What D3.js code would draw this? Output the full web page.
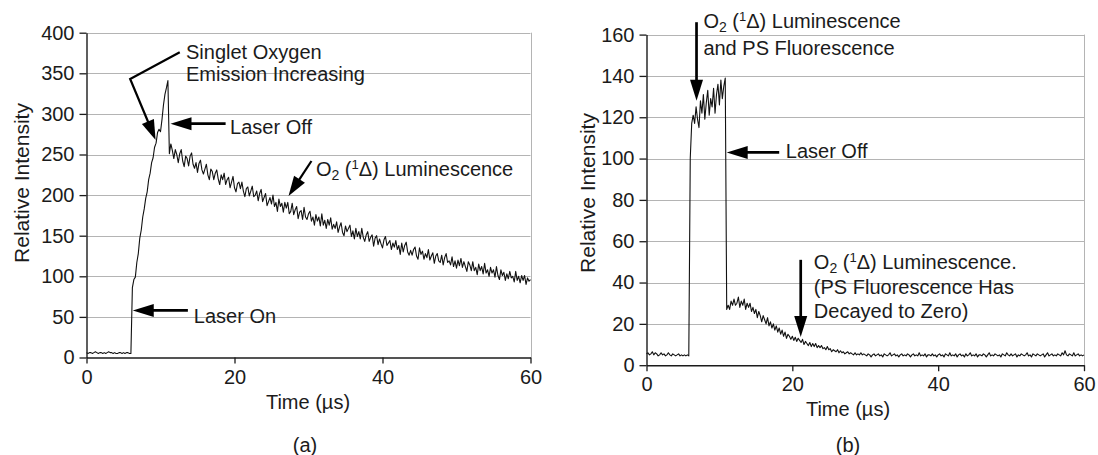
<!DOCTYPE html>
<html>
<head>
<meta charset="utf-8">
<script src="https://cdn.jsdelivr.net/npm/d3@7"></script>
<style>
  body { margin: 0; background: #fff; }
  svg { display: block; font-family: "Liberation Sans", Arial, sans-serif; }
</style>
</head>
<body>
<svg id="fig" width="1098" height="455"></svg>
<script>
// Recorded traces, one sample every 0.2 µs from t = 0 to t = 60 µs.
const sampleStep = 0.2;

// (a) Singlet oxygen emission: laser on at ~6 µs, off at ~11 µs.
const intensityA = [
  6,5,6,6,5,6,7,6,5,6,6,5,6,5,6,7,6,6,5,6,5,5,6,6,5,6,5,6,6,5,5,
  86,96,99,117,128,147,157,173,183,196,204,219,227,240,246,259,264,277,281,278,293,311,324,332,341,
  251,263,255,245,
  256,250,240,251,256, 242,235,248,245,236, 248,252,238,233,240, 228,239,243,231,226,
  232,238,225,219,232, 229,219,227,231,220, 213,225,219,227,213, 219,222,209,216,223,
  209,204,214,216,208, 216,205,198,208,210, 199,205,211,198,200, 205,193,202,207,192,
  197,202,187,192,197, 189,200,186,191,180, 195,186,190,179,191, 184,191,177,180,190,
  176,182,186,171,179, 181,170,185,173,170, 177,180,168,173,163, 176,168,173,162,177,
  163,169,159,170,163, 172,158,164,159,167, 154,161,166,154,150, 162,155,159,163,149,
  156,146,159,149,155, 146,159,148,143,151, 155,143,148,151,137, 147,150,139,146,140,
  135,145,149,138,141, 144,133,141,136,144, 133,138,127,141,130, 138,142,130,126,132,
  126,133,136,125,121, 135,127,131,121,128, 123,133,120,125,129, 116,125,128,119,117,
  126,114,123,128,117, 119,114,124,112,119, 110,120,113,122,111, 118,112,106,118,114,
  107,118,107,111,102, 115,107,112,103,116, 104,108,100,111,104, 108,99,112,101,96,
  108,101,105,95,103, 97,106,98,100,93, 106,95,100,92,101, 95,101,90,98,94,
  96
];

// (b) Luminescence plus photosensitizer fluorescence.
const intensityB = [
  5.5,6,5,5.5,6.5,5,6,5.5,4.5,5,6,5,5.5,4.5,5,6,5,4.5,5.5,5,4.5,5,5.5,4.5,5,4.5,5,4.5,5,4.5,
  100,117,
  121,117,125,119,115,128,122,131,119,127,133,121,129,125,134,122,131,136,126,138,129,135,139,
  27,
  29,27,31,29,
  32,29,30,33,28, 31,29,32,27,30, 28,30,26,28,25, 27,23,26,24,21,
  24,22,20,23,19, 21,18,20,17,19, 16,18,15,17,14, 16,13,15,14,12.5,
  14,12,13.5,11.5,13, 12,11,12.5,10,11.5, 10.5,9.5,11,9,10.5, 9,10.5,8.5,9.5,8.5,
  9.5,8,8.5,7.5,9, 7.5,8,6.5,7.5,7, 6.5,7.5,6,7,6, 6.5,5.5,6,6.5,5.5,
  6,5.5,5,6,5, 5.5,5,6,5,5.5,
  5,4.5,5.5,5,4,5,5.5,4.5,5,5.5,
  4.5,5,4,5.5,5,4.5,5,6,4.5,5,
  5.5,4.5,5,4,5,5.5,4.5,5,4.5,5.5,
  5,4,5,5.5,4.5,5,4.5,6,4.5,5,
  4.5,5.5,4,5,5,4.5,5.5,4.5,5,4,
  5,5.5,4.5,5,4,5.5,5,4.5,6,4.5,
  5,4.5,5.5,4,5,5.5,4.5,5,4,5.5,
  4.5,5,6,4.5,5,4.5,5.5,4,5,5,
  4.5,5.5,5,4,5,6,4.5,5,4.5,5.5,
  5,4.5,5,4,5.5,5,4.5,6,5,4.5,
  5.5,4.5,5,5.5,4,5,4.5,5.5,5,4.5,
  5,6,4.5,5,4,5.5,5,4.5,5.5,5,
  4.5,5,5.5,4,5,6,4.5,5,5.5,4.5,
  5,4.5,5.5,5,4.5,6,5,7,5,4.5,
  5.5,5,4.5,6,4.5,5,5.5,4.5,5,4.5,
  5
];

const timeTicks = [0, 20, 40, 60];
const intensityTicksA = [0, 50, 100, 150, 200, 250, 300, 350, 400];
const intensityTicksB = [0, 20, 40, 60, 80, 100, 120, 140, 160];

const timeTitle = "Time (µs)";
const intensityTitle = "Relative Intensity";
const panelLetters = ["(a)", "(b)"];

// Annotation arrows (time in µs, intensity units); the last point is the tip.
const arrowsA = [
  { kind: "pointer", pts: [[13.7, 58], [6.25, 58]] },
  { kind: "pointer", pts: [[18.8, 288], [11.35, 288]] },
  { kind: "callout", pts: [[12.6, 376], [5.9, 343], [9.34, 268]] },
  { kind: "callout", pts: [[30.4, 242], [27.3, 199]] }
];
const arrowsB = [
  { kind: "pointer", pts: [[6.86, 166], [6.86, 128]] },
  { kind: "pointer", pts: [[18.2, 103], [11.0, 103]] },
  { kind: "pointer", pts: [[21.15, 51], [21.15, 13.7]] }
];

// Annotation text ("_" = subscript, "^" = superscript for the next character).
const notesA = [
  { at: [14.5, 42], text: "Laser On" },
  { at: [19.4, 275], text: "Laser Off" },
  { at: [13.45, 368], text: "Singlet Oxygen" },
  { at: [13.45, 341], text: "Emission Increasing" },
  { at: [31.0, 224], text: "O_2 (^1Δ) Luminescence" }
];
const notesB = [
  { at: [7.8, 163], text: "O_2 (^1Δ) Luminescence" },
  { at: [7.8, 150], text: "and PS Fluorescence" },
  { at: [19.1, 100.4], text: "Laser Off" },
  { at: [22.95, 46.4], text: "O_2 (^1Δ) Luminescence." },
  { at: [22.95, 34.6], text: "(PS Fluorescence Has" },
  { at: [22.95, 23.0], text: "Decayed to Zero)" }
];

// ---------------------------------------------------------------------------
const svg = d3.select("#fig");
const INK = "#1b1b1b";
const GRID = "#b4b4b4";
const FONT = 20;

const panels = [
  { values: intensityA, ticks: intensityTicksA, arrows: arrowsA, notes: notesA, letter: panelLetters[0],
    xr: [86.5, 530.5], yr: [357.5, 32.7], yTitle: [22, 183], xTitleX: 308, letterX: 305 },
  { values: intensityB, ticks: intensityTicksB, arrows: arrowsB, notes: notesB, letter: panelLetters[1],
    xr: [646.5, 1084], yr: [365.2, 34.6], yTitle: [588, 193], xTitleX: 848, letterX: 848 }
];

function richText(g, x, y, str) {
  const t = g.append("text").attr("x", x).attr("y", y)
    .attr("font-size", FONT).attr("fill", INK);
  const re = /([_^])(.)/g;
  let last = 0, m, shift = 0;
  const add = (s, size, dy) => {
    const ts = t.append("tspan").text(s);
    if (size) ts.attr("font-size", size);
    if (dy) ts.attr("dy", dy);
  };
  while ((m = re.exec(str)) !== null) {
    if (m.index > last) { add(str.slice(last, m.index), null, -shift); shift = 0; }
    const d = m[1] === "_" ? 4 : -7;
    add(m[2], m[1] === "_" ? 14 : 13, d - shift);
    shift = d;
    last = re.lastIndex;
  }
  if (last < str.length) add(str.slice(last), null, -shift);
}

function drawArrow(g, pts, kind) {
  const lw = kind === "pointer" ? 2.7 : 2.2;
  const headLen = kind === "pointer" ? 21 : 20;
  const headHalf = 6.5;
  const n = pts.length;
  const [tx, ty] = pts[n - 1], [px, py] = pts[n - 2];
  const len = Math.hypot(tx - px, ty - py);
  const ux = (tx - px) / len, uy = (ty - py) / len;
  const bx = tx - ux * headLen, by = ty - uy * headLen;
  const linePts = pts.slice(0, n - 1).concat([[bx + ux * 2, by + uy * 2]]);
  g.append("path").attr("d", d3.line()(linePts))
    .attr("fill", "none").attr("stroke", "#000").attr("stroke-width", lw)
    .attr("stroke-linejoin", "miter");
  g.append("path")
    .attr("d", d3.line()([[tx, ty], [bx - uy * headHalf, by + ux * headHalf], [bx + uy * headHalf, by - ux * headHalf]]) + "Z")
    .attr("fill", "#000");
}

panels.forEach(p => {
  const x = d3.scaleLinear().domain([0, 60]).range(p.xr);
  const y = d3.scaleLinear().domain([0, d3.max(p.ticks)]).range(p.yr);
  const g = svg.append("g");

  // horizontal gridlines and right frame edge
  g.append("g").selectAll("line").data(p.ticks.filter(v => v > 0)).join("line")
    .attr("x1", x(0)).attr("x2", x(60))
    .attr("y1", d => Math.round(y(d)) + 0.5).attr("y2", d => Math.round(y(d)) + 0.5)
    .attr("stroke", GRID).attr("stroke-width", 1);
  g.append("line")
    .attr("x1", Math.round(x(60)) + 0.5).attr("x2", Math.round(x(60)) + 0.5)
    .attr("y1", y(d3.max(p.ticks))).attr("y2", y(0))
    .attr("stroke", GRID).attr("stroke-width", 1);

  // trace
  g.append("path")
    .datum(p.values)
    .attr("d", d3.line().x((v, i) => x(i * sampleStep)).y(v => y(v)))
    .attr("fill", "none").attr("stroke", "#111").attr("stroke-width", 1.1)
    .attr("stroke-linejoin", "round");

  // axes
  const ya = g.append("g").attr("transform", `translate(${x(0)},0)`)
    .call(d3.axisLeft(y).tickValues(p.ticks).tickSize(7).tickPadding(5).tickSizeOuter(0));
  const xa = g.append("g").attr("transform", `translate(0,${y(0)})`)
    .call(d3.axisBottom(x).tickValues(timeTicks).tickSize(6).tickPadding(6).tickSizeOuter(0));
  [ya, xa].forEach(a => {
    a.selectAll("path.domain").attr("stroke", INK).attr("stroke-width", 1.4);
    a.selectAll(".tick line").attr("stroke", INK).attr("stroke-width", 1.3);
    a.selectAll(".tick text").attr("fill", INK)
      .attr("font-size", FONT).attr("font-family", "Liberation Sans, Arial, sans-serif");
  });

  // titles
  g.append("text").attr("x", p.xTitleX).attr("y", y(0) + 51)
    .attr("text-anchor", "middle").attr("font-size", FONT).attr("fill", INK).text(timeTitle);
  g.append("text")
    .attr("transform", `translate(${p.yTitle[0]},${p.yTitle[1]}) rotate(-90)`)
    .attr("text-anchor", "middle").attr("dy", "0.35em")
    .attr("font-size", 21).attr("fill", INK).text(intensityTitle);
  g.append("text").attr("x", p.letterX).attr("y", 452)
    .attr("text-anchor", "middle").attr("font-size", FONT).attr("fill", INK).text(p.letter);

  // annotations
  p.arrows.forEach(a => drawArrow(g, a.pts.map(([t, v]) => [x(t), y(v)]), a.kind));
  p.notes.forEach(n => richText(g, x(n.at[0]), y(n.at[1]), n.text));
});
</script>
</body>
</html>
